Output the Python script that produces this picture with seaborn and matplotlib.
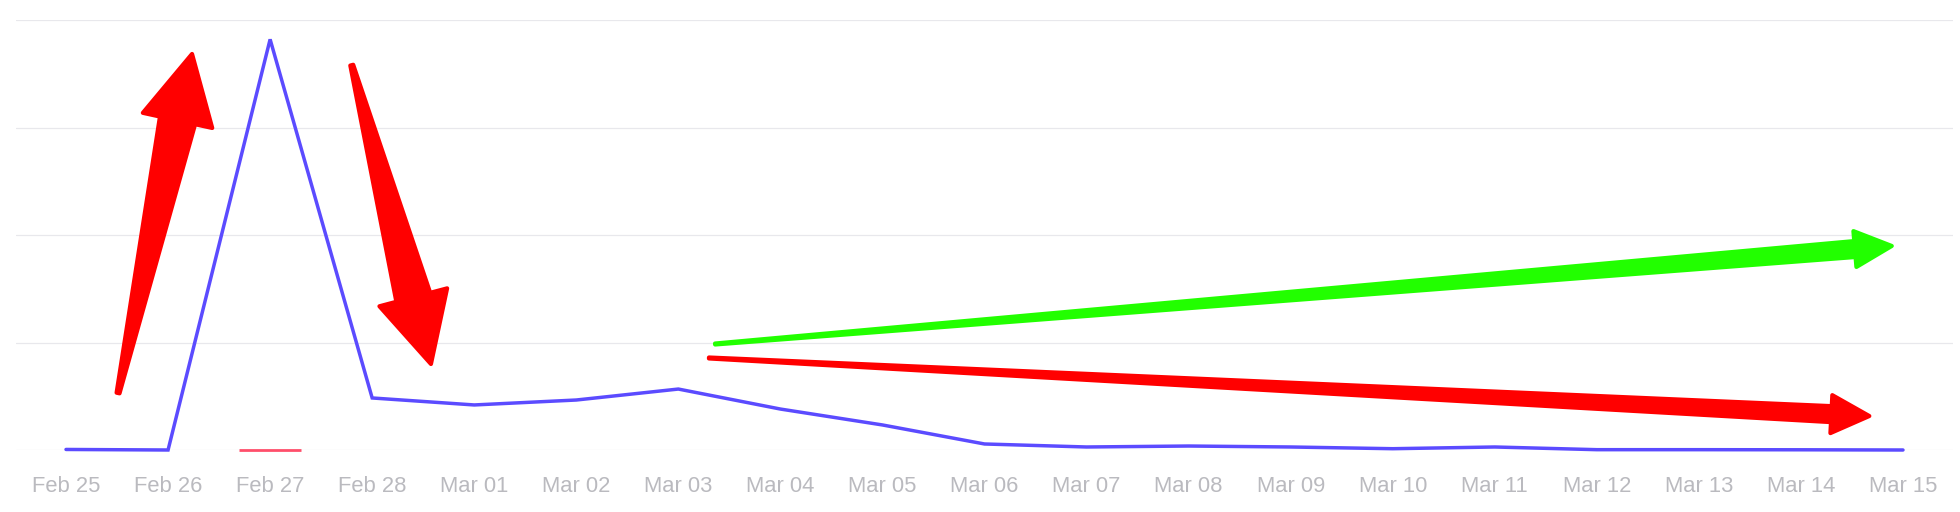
import numpy as np
import pandas as pd
import matplotlib
matplotlib.use('Agg')
import matplotlib.pyplot as plt
import seaborn as sns
from matplotlib.patches import Polygon
from matplotlib.transforms import IdentityTransform

# daily values (one grid step = 1 unit)
days = ['Feb 25', 'Feb 26', 'Feb 27', 'Feb 28', 'Mar 01', 'Mar 02', 'Mar 03',
        'Mar 04', 'Mar 05', 'Mar 06', 'Mar 07', 'Mar 08', 'Mar 09', 'Mar 10',
        'Mar 11', 'Mar 12', 'Mar 13', 'Mar 14', 'Mar 15']
visits = [0.005, 0.0, 3.82, 0.484, 0.419, 0.465, 0.567, 0.381, 0.233, 0.056,
          0.028, 0.037, 0.028, 0.012, 0.028, 0.003, 0.003, 0.002, 0.0]
second = [np.nan, np.nan, 0.0] + [np.nan] * 16

# hand-drawn annotation arrows, in (day index, value)
arrow_tails = [(0.51, 0.53), (2.80, 3.58), (6.36, 0.986), (6.30, 0.856)]
arrow_tips = [(1.235, 3.684), (3.576, 0.80), (17.89, 1.898), (17.67, 0.316)]
arrow_colors = ['#ff0000', '#ff0000', '#22ff00', '#ff0000']
# tail width, body width at head, head width, head length (pixels)
arrow_sizes = [(3, 36, 71, 68), (3, 35, 70, 69), (1, 16, 36, 37), (1, 16, 38, 38)]

df = pd.DataFrame({'idx': range(len(days)), 'day': days, 'visits': visits})

sns.set_style('white')
plt.rcParams['font.family'] = ['Liberation Sans', 'DejaVu Sans']

fig = plt.figure(figsize=(19.6, 5.12), dpi=100)
ax = fig.add_axes([16 / 1960, 62 / 512, 1937 / 1960, 430 / 512])

sns.lineplot(data=df, x='idx', y='visits', ax=ax, color='#5b4bff', linewidth=2.5,
             clip_on=False, zorder=3, solid_joinstyle='miter')
ax.plot(df['idx'], second, linestyle='none', marker='_', markersize=44.6,
        markeredgewidth=2.0, color='#ff4f6b', clip_on=False, zorder=3)

ax.set_xlim(-0.49, 18.49)
ax.set_ylim(0, 4)
ax.set_yticks([0, 1, 2, 3, 4])
ax.set_yticklabels([])
ax.set_xticks(df['idx'])
ax.set_xticklabels(days)
ax.tick_params(axis='x', length=0, pad=19, labelsize=15.8, labelcolor='#bababf')
ax.tick_params(axis='y', length=0)
ax.grid(axis='y', color='#e8e8ec', linewidth=0.9)
ax.grid(axis='x', visible=False)
ax.set_xlabel('')
ax.set_ylabel('')
sns.despine(ax=ax, left=True, bottom=True)

# tapered arrows built in pixel space, rounded corners from the outline
for tail, tip, col, (tw, bw, hw, hl) in zip(arrow_tails, arrow_tips, arrow_colors, arrow_sizes):
    p0 = ax.transData.transform(tail)
    p1 = ax.transData.transform(tip)
    u = (p1 - p0) / np.hypot(*(p1 - p0))
    n = np.array([-u[1], u[0]])
    base = p1 - u * hl
    pts = [p0 + n * tw / 2, base + n * bw / 2, base + n * hw / 2, p1,
           base - n * hw / 2, base - n * bw / 2, p0 - n * tw / 2]
    ax.add_patch(Polygon(pts, closed=True, facecolor=col, edgecolor=col,
                         linewidth=3.0, joinstyle='round',
                         transform=IdentityTransform(), clip_on=False, zorder=4))

fig.savefig('out.png', dpi=100)
